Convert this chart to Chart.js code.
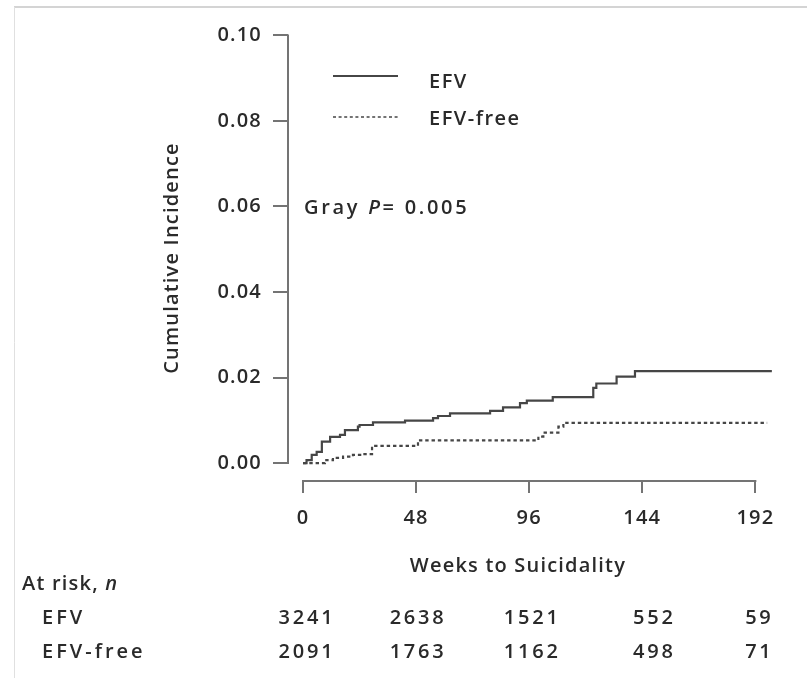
<!DOCTYPE html>
<html>
<head>
<meta charset="utf-8">
<script src="https://cdn.jsdelivr.net/npm/chart.js@4.4.1/dist/chart.umd.min.js"></script>
<style>
  html, body { margin: 0; padding: 0; background: #fff; }
  canvas { display: block; }
</style>
</head>
<body>
<canvas id="c" width="807" height="678"></canvas>
<script>
// Cumulative incidence of suicidality by arm, drawn as step functions.
const efvWeeks = [0, 1.5, 3.7, 5.8, 8, 11.5, 15.7, 17.8, 23.3, 24, 29.7, 43.3, 55.2, 57.3, 62.4, 79.4, 84.9, 92.1, 95, 106, 123.2, 124.5, 133.1, 140.9, 199];
const efvIncidence = [0, 0.0007, 0.0019, 0.0026, 0.005, 0.0061, 0.0066, 0.0077, 0.0085, 0.0089, 0.0095, 0.0099, 0.0105, 0.011, 0.0116, 0.0122, 0.013, 0.014, 0.0146, 0.0154, 0.0176, 0.0186, 0.0202, 0.0215, 0.0215];

const freeWeeks = [0, 9.3, 12.7, 17, 21.2, 25.5, 29.3, 48.8, 99.9, 102, 108.4, 110.5, 197];
const freeIncidence = [0, 0.0007, 0.0012, 0.0015, 0.0019, 0.0021, 0.004, 0.0053, 0.0062, 0.0071, 0.0085, 0.0094, 0.0094];

const seriesNames = ['EFV', 'EFV-free'];
const weekTicks = [0, 48, 96, 144, 192];
const incidenceTicks = [0, 0.02, 0.04, 0.06, 0.08, 0.10];

const riskTimes = [0, 48, 96, 144, 192];
const atRiskEFV = [3241, 2638, 1521, 552, 59];
const atRiskFree = [2091, 1763, 1162, 498, 71];
const grayP = '0.005';
const xTitle = 'Weeks to Suicidality';

const FONT = "'Open Sans', sans-serif";
const WEIGHT = '600';
const INK = '#2a2a2a';
const AXIS = '#747474';
const CURVE = '#464646';
const TRACK = '1.2px';

function toPoints(xs, ys) {
  return xs.map((x, i) => ({ x: x, y: ys[i] }));
}

function font(style) {
  return (style ? style + ' ' : '') + WEIGHT + ' 20px ' + FONT;
}

// Frame, offset axis lines, legend, test annotation, axis title and the at-risk table.
const decorations = {
  id: 'decorations',
  beforeUpdate(chart) {
    chart.ctx.letterSpacing = TRACK;
  },
  beforeDraw(chart) {
    const ctx = chart.ctx;
    ctx.save();
    ctx.fillStyle = '#fff';
    ctx.fillRect(0, 0, chart.width, chart.height);
    ctx.lineWidth = 1.5;
    ctx.strokeStyle = '#c6c6c6';
    ctx.beginPath();
    ctx.moveTo(14, 7);
    ctx.lineTo(chart.width, 7);
    ctx.stroke();
    ctx.lineWidth = 1;
    ctx.strokeStyle = '#e0e0e0';
    ctx.beginPath();
    ctx.moveTo(14.5, 7);
    ctx.lineTo(14.5, chart.height);
    ctx.stroke();
    ctx.restore();
    ctx.letterSpacing = TRACK;
  },
  afterDraw(chart) {
    const ctx = chart.ctx;
    const xs = chart.scales.x;
    const ys = chart.scales.y;
    const area = chart.chartArea;

    ctx.save();
    ctx.strokeStyle = AXIS;
    ctx.lineWidth = 2;
    // vertical axis spans 0.00 to 0.10 only
    ctx.beginPath();
    ctx.moveTo(area.left, ys.getPixelForValue(incidenceTicks[incidenceTicks.length - 1]) - 1);
    ctx.lineTo(area.left, ys.getPixelForValue(0) + 1);
    ctx.stroke();
    // horizontal axis spans the first to the last week tick
    ctx.beginPath();
    ctx.moveTo(xs.getPixelForValue(weekTicks[0]) - 1, area.bottom);
    ctx.lineTo(xs.getPixelForValue(weekTicks[weekTicks.length - 1]) + 1, area.bottom);
    ctx.stroke();

    ctx.fillStyle = INK;
    ctx.font = font();
    ctx.textBaseline = 'middle';
    ctx.letterSpacing = TRACK;

    // x axis title
    ctx.textAlign = 'center';
    ctx.fillText(xTitle, 518, 566);

    // legend
    ctx.textAlign = 'left';
    const legendRows = [{ line: 76, text: 82 }, { line: 117, text: 119 }];
    chart.data.datasets.forEach((ds, i) => {
      ctx.save();
      ctx.strokeStyle = ds.borderColor;
      ctx.lineWidth = i === 0 ? 2 : 1.5;
      ctx.setLineDash(i === 0 ? [] : [3, 2.6]);
      ctx.beginPath();
      ctx.moveTo(333, legendRows[i].line);
      ctx.lineTo(398, legendRows[i].line);
      ctx.stroke();
      ctx.restore();
      ctx.letterSpacing = '1.5px';
      ctx.fillText(ds.label, 429, legendRows[i].text);
    });

    // Gray test p-value
    ctx.letterSpacing = '2.7px';
    let tx = 304;
    const ty = 208;
    ctx.font = font();
    ctx.fillText('Gray ', tx, ty);
    tx += ctx.measureText('Gray ').width;
    ctx.font = font('italic');
    ctx.fillText('P', tx, ty);
    tx += ctx.measureText('P').width;
    ctx.font = font();
    ctx.fillText('= ' + grayP, tx, ty);

    // number at risk
    ctx.letterSpacing = TRACK;
    ctx.font = font();
    ctx.fillText('At risk, ', 22, 584);
    const w = ctx.measureText('At risk, ').width;
    ctx.font = font('italic');
    ctx.fillText('n', 22 + w, 584);

    ctx.font = font();
    ctx.letterSpacing = '3px';
    const rowY = [618, 652];
    ctx.fillText(seriesNames[0], 42, rowY[0]);
    ctx.fillText(seriesNames[1], 42, rowY[1]);

    ctx.letterSpacing = '2.8px';
    ctx.textAlign = 'center';
    const nudge = [4, 2, 3, 12, 4];
    [atRiskEFV, atRiskFree].forEach((row, r) => {
      row.forEach((n, k) => {
        ctx.fillText(String(n), xs.getPixelForValue(riskTimes[k]) + nudge[k], rowY[r]);
      });
    });
    ctx.restore();
    ctx.letterSpacing = TRACK;
  }
};

const tickFont = { family: FONT, size: 20, weight: WEIGHT, lineHeight: 1 };

new Chart(document.getElementById('c'), {
  type: 'line',
  data: {
    datasets: [
      {
        label: seriesNames[0],
        data: toPoints(efvWeeks, efvIncidence),
        borderColor: CURVE,
        borderWidth: 2.2,
        stepped: true,
        pointRadius: 0,
        fill: false
      },
      {
        label: seriesNames[1],
        data: toPoints(freeWeeks, freeIncidence),
        borderColor: CURVE,
        borderWidth: 2.2,
        borderDash: [3.4, 2.9],
        stepped: true,
        pointRadius: 0,
        fill: false
      }
    ]
  },
  options: {
    responsive: false,
    animation: false,
    devicePixelRatio: 1,
    layout: { padding: { left: 0, top: 35, right: 17, bottom: 0 } },
    plugins: {
      legend: { display: false },
      tooltip: { enabled: false }
    },
    scales: {
      x: {
        type: 'linear',
        position: 'bottom',
        min: -6.37,
        max: 206.7,
        afterFit(scale) { scale.height = 197; },
        afterBuildTicks(scale) { scale.ticks = weekTicks.map(v => ({ value: v })); },
        border: { display: false },
        grid: { drawOnChartArea: false, drawTicks: true, tickLength: 12, color: AXIS, lineWidth: 2 },
        ticks: {
          autoSkip: false,
          maxRotation: 0,
          padding: 15.5,
          color: INK,
          font: tickFont,
          callback: v => String(v)
        },
        title: { display: false }
      },
      y: {
        type: 'linear',
        position: 'left',
        min: -0.0042,
        max: 0.1001,
        afterFit(scale) { scale.width = 288; },
        afterBuildTicks(scale) { scale.ticks = incidenceTicks.map(v => ({ value: v })); },
        border: { display: false },
        grid: { drawOnChartArea: false, drawTicks: true, tickLength: 15, color: AXIS, lineWidth: 2 },
        ticks: {
          autoSkip: false,
          padding: 11,
          color: INK,
          font: tickFont,
          callback: v => Number(v).toFixed(2)
        },
        title: {
          display: true,
          text: 'Cumulative Incidence',
          color: INK,
          font: { family: FONT, size: 20, weight: WEIGHT, lineHeight: 1 },
          padding: { top: 162, bottom: 0 }
        }
      }
    }
  },
  plugins: [decorations]
});
</script>
</body>
</html>
